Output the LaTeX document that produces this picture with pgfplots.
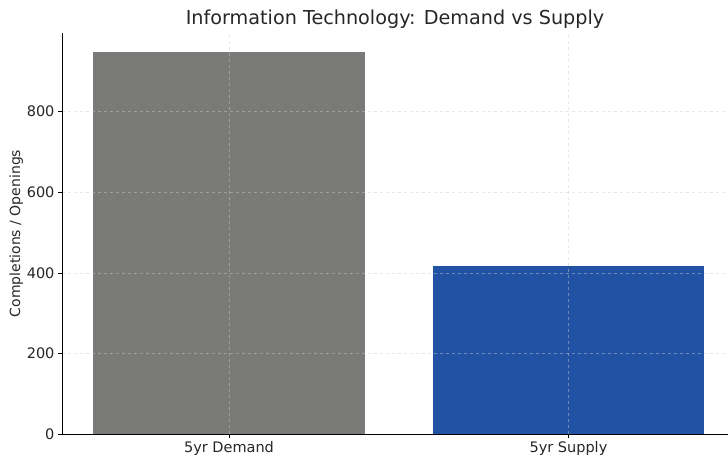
\documentclass[border=0pt]{standalone}
\usepackage{pgfplots}
\pgfplotsset{compat=1.18}
\usepackage{fontspec}
\setmainfont{DejaVu Sans}
\definecolor{bargray}{HTML}{7A7A78}
\definecolor{barblue}{HTML}{2152A3}
\definecolor{txt}{HTML}{262626}
\begin{document}
\begin{tikzpicture}
\begin{axis}[
  width=666pt, height=401pt, scale only axis,
  xmin=-0.492, xmax=1.470, ymin=0, ymax=995,
  axis x line*=bottom, axis y line*=left,
  ybar, bar width=0.8, bar shift=0pt,
  xtick={0,1}, xticklabels={5yr Demand,5yr Supply},
  ytick={0,200,400,600,800},
  tick align=outside, tick style={black, thin},
  major tick length=4pt,
  grid=major, grid style={dashed, gray!40, opacity=0.45},
  axis on top,
  ticklabel style={font=\fontsize{14.5}{16}\selectfont, text=txt},
  /pgf/number format/assume math mode=true,
  ylabel={Completions / Openings},
  ylabel style={font=\fontsize{14}{16}\selectfont, text=txt, yshift=-3pt},
  title={Information Technology: Demand vs Supply},
  title style={font=\fontsize{19.2}{21}\selectfont, text=txt, yshift=-5pt},
  axis line style={black, thin},
]
\addplot[fill=bargray, draw=none] coordinates {(0,947)};
\addplot[fill=barblue, draw=none] coordinates {(1,418)};
\end{axis}
\pgfresetboundingbox
\path (current axis.south west) ++(-62pt,-22pt) rectangle ++(728pt,456pt);
\end{tikzpicture}
\end{document}
